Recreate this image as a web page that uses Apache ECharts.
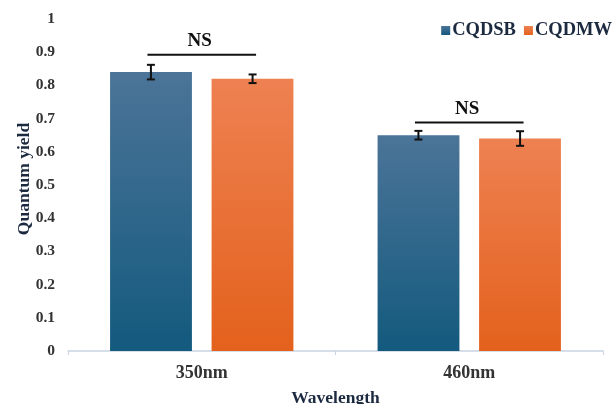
<!DOCTYPE html>
<html>
<head>
<meta charset="utf-8">
<script src="https://cdn.jsdelivr.net/npm/echarts@6/dist/echarts.min.js"></script>
<style>
  html, body { margin: 0; padding: 0; background: #fff; }
  #chart { width: 616px; height: 404px; }
</style>
</head>
<body>
<div id="chart"></div>
<script>
// Quantum yield of the two carbon quantum dot samples at two excitation wavelengths
const categories = ['350nm', '460nm'];
const seriesNames = ['CQDSB', 'CQDMW'];
const cqdsbValues = [0.84, 0.65];
const cqdmwValues = [0.82, 0.64];
const cqdsbErrors = [0.022, 0.013];
const cqdmwErrors = [0.013, 0.022];
const yTicks = [0, 0.1, 0.2, 0.3, 0.4, 0.5, 0.6, 0.7, 0.8, 0.9, 1];
// Significance brackets: height of the bracket line and its label
const bracketLevels = [0.892, 0.688];
const bracketLabels = ['NS', 'NS'];

const FONT = '"Liberation Serif", "Times New Roman", serif';
const TEXT_DARK = '#1c2a40';

const chart = echarts.init(document.getElementById('chart'));

function grad(top, bottom) {
  return new echarts.graphic.LinearGradient(0, 0, 0, 1, [
    { offset: 0, color: top },
    { offset: 1, color: bottom }
  ]);
}

// Error bar (I-beam) drawn at the bar centre of a given series
function errorSeries(values, errors, offsetFrac, name) {
  return {
    type: 'custom',
    name: name + ' error',
    z: 10,
    silent: true,
    data: values.map((v, i) => [i, v - errors[i], v + errors[i]]),
    renderItem: function (params, api) {
      const lo = api.coord([api.value(0), api.value(1)]);
      const hi = api.coord([api.value(0), api.value(2)]);
      const band = api.size([1, 0])[0];
      const x = lo[0] + band * offsetFrac;
      const cap = 4;
      const style = { stroke: '#111', lineWidth: 2 };
      return {
        type: 'group',
        children: [
          { type: 'line', shape: { x1: x, y1: lo[1], x2: x, y2: hi[1] }, style },
          { type: 'line', shape: { x1: x - cap, y1: lo[1], x2: x + cap, y2: lo[1] }, style },
          { type: 'line', shape: { x1: x - cap, y1: hi[1], x2: x + cap, y2: hi[1] }, style }
        ]
      };
    }
  };
}

const option = {
  backgroundColor: '#fff',
  animation: false,
  grid: { left: 68, right: 13, top: 19, bottom: 53, outerBoundsMode: 'none', containLabel: false },
  legend: {
    data: seriesNames,
    right: -1,
    top: 16,
    itemWidth: 9,
    itemHeight: 9,
    itemGap: 8,
    icon: 'rect',
    textStyle: { fontFamily: FONT, fontWeight: 'bold', fontSize: 18.5, color: TEXT_DARK, padding: [0, 0, 0, -3] }
  },
  xAxis: {
    type: 'category',
    data: categories,
    name: 'Wavelength',
    nameLocation: 'middle',
    nameGap: 38,
    nameMoveOverlap: false,
    nameTextStyle: { fontFamily: FONT, fontWeight: 'bold', fontSize: 17.5, color: TEXT_DARK },
    axisLine: { lineStyle: { color: '#c8d4e2', width: 1.5 } },
    axisTick: { show: true, length: 4, lineStyle: { color: '#c8d4e2' } },
    axisLabel: { fontFamily: FONT, fontWeight: 'bold', fontSize: 18, color: '#333', margin: 13 }
  },
  yAxis: {
    type: 'value',
    min: 0,
    max: 1,
    interval: 0.1,
    name: 'Quantum yield',
    nameLocation: 'middle',
    nameGap: 35,
    nameRotate: 90,
    nameMoveOverlap: false,
    nameTextStyle: { fontFamily: FONT, fontWeight: 'bold', fontSize: 17.5, color: TEXT_DARK, padding: [0, 0, 0, 12] },
    axisLine: { show: false },
    axisTick: { show: false },
    splitLine: { show: false },
    axisLabel: {
      fontFamily: FONT, fontWeight: 'bold', fontSize: 15.5, color: '#333', margin: 13,
      formatter: function (v) {
        const t = yTicks.find(x => Math.abs(x - v) < 1e-9);
        return t === undefined ? '' : String(t);
      }
    }
  },
  series: [
    {
      name: seriesNames[0],
      type: 'bar',
      data: cqdsbValues,
      barWidth: '30.6%',
      barGap: '24%',
      itemStyle: { color: grad('#4b7498', '#135a7e') }
    },
    {
      name: seriesNames[1],
      type: 'bar',
      data: cqdmwValues,
      barWidth: '30.6%',
      barGap: '24%',
      itemStyle: { color: grad('#ee8152', '#e3611c') }
    },
    errorSeries(cqdsbValues, cqdsbErrors, -0.19, seriesNames[0]),
    errorSeries(cqdmwValues, cqdmwErrors, 0.19, seriesNames[1]),
    {
      type: 'custom',
      name: 'brackets',
      z: 10,
      silent: true,
      data: bracketLevels.map((v, i) => [i, v]),
      renderItem: function (params, api) {
        const p = api.coord([api.value(0), api.value(1)]);
        const band = api.size([1, 0])[0];
        const half = band * 0.203;
        return {
          type: 'group',
          children: [
            { type: 'line', shape: { x1: p[0] - half, y1: p[1], x2: p[0] + half, y2: p[1] },
              style: { stroke: '#111', lineWidth: 2 } },
            { type: 'text', x: p[0] - 2, y: p[1] - 4,
              style: { text: bracketLabels[params.dataIndex], fontFamily: FONT, fontWeight: 'bold',
                       fontSize: 19, fill: '#111', align: 'center', verticalAlign: 'bottom' } }
          ]
        };
      }
    }
  ]
};

chart.setOption(option);
</script>
</body>
</html>
